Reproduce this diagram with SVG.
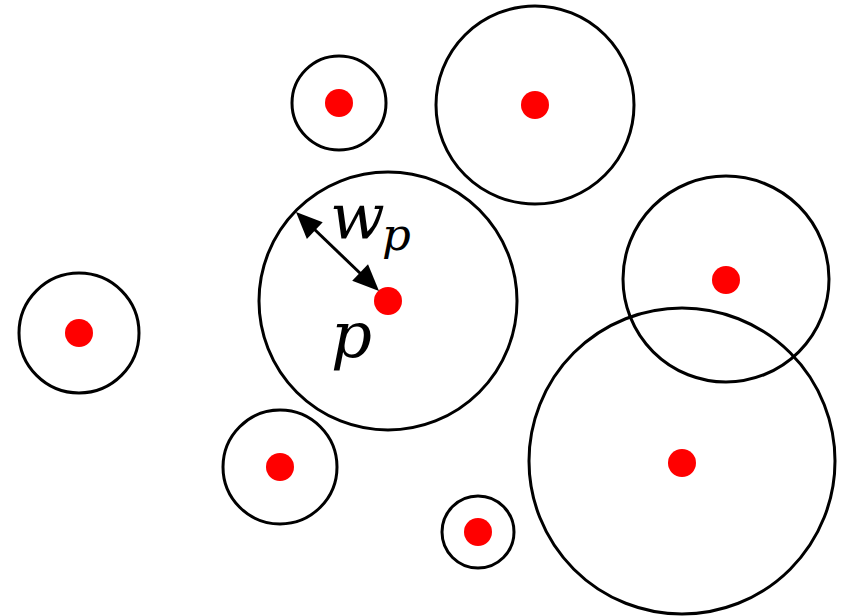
<svg xmlns="http://www.w3.org/2000/svg" width="847" height="616" viewBox="0 0 847 616">
<style>
.c{fill:none;stroke:#000;stroke-width:3}
.d{fill:#ff0000}
</style>
<rect width="847" height="616" fill="#fff"/>
<g id="n1"><circle class="c" cx="339" cy="103" r="47"/><circle class="d" cx="339" cy="103" r="14"/></g>
<g id="n2"><circle class="c" cx="535" cy="105" r="99"/><circle class="d" cx="535" cy="105" r="14"/></g>
<g id="n3"><circle class="c" cx="388" cy="301" r="129"/><circle class="d" cx="388" cy="301" r="14"/>
<text x="331" y="357" font-size="64" font-family="DejaVu Serif, serif" font-style="italic">p</text>
<text x="330" y="239" font-size="64" font-family="DejaVu Serif, serif" font-style="italic">w</text>
<text x="382" y="250" font-size="45" font-family="DejaVu Serif, serif" font-style="italic">p</text></g>
<g id="n4"><circle class="c" cx="79" cy="333" r="60"/><circle class="d" cx="79" cy="333" r="14"/></g>
<g id="n5"><circle class="c" cx="280" cy="467" r="57"/><circle class="d" cx="280" cy="467" r="14"/></g>
<g id="n6"><circle class="c" cx="478" cy="532" r="36"/><circle class="d" cx="478" cy="532" r="14"/></g>
<g id="n7"><circle class="c" cx="726" cy="279" r="103"/><circle class="d" cx="726" cy="280" r="14"/></g>
<g id="n8"><circle class="c" cx="682" cy="461" r="153"/><circle class="d" cx="682" cy="463" r="14"/></g>
<g id="connectors">
<line x1="312" y1="227" x2="363" y2="276" stroke="#000" stroke-width="3"/>
<polygon points="296,212 306.9,238.9 322.7,222.3" fill="#000"/>
<polygon points="379,291 352.2,280.8 368.0,264.2" fill="#000"/>
</g>
</svg>
